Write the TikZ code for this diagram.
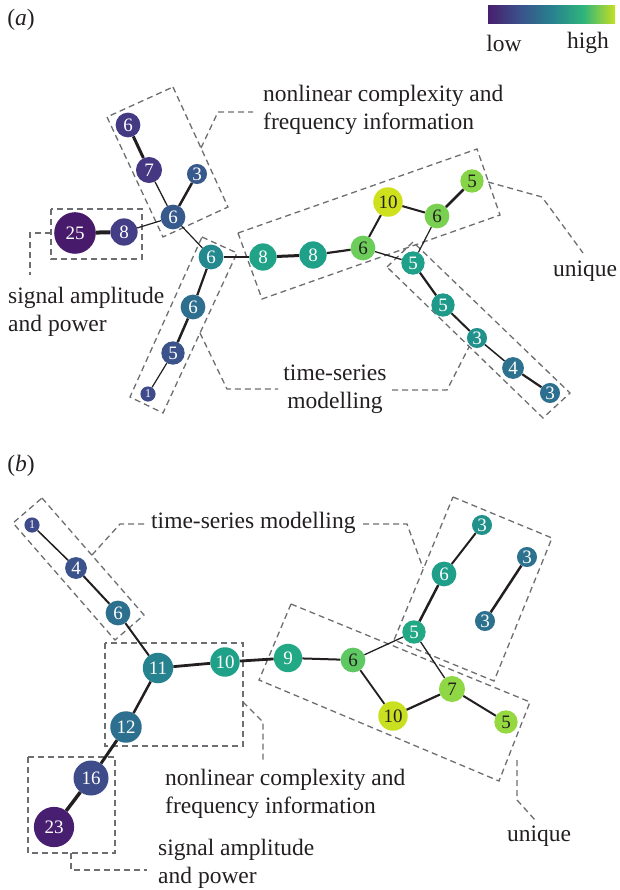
\documentclass[tikz,border=0pt]{standalone}
\usepackage{fontspec}
\setmainfont{Liberation Serif}

\definecolor{edgec}{HTML}{231F20}
\definecolor{grpc}{HTML}{6D6E71}
\definecolor{txtc}{HTML}{231F20}
% colour bar stops
\definecolor{vir0}{HTML}{471F6D}
\definecolor{vir1}{HTML}{3B518B}
\definecolor{vir2}{HTML}{27818E}
\definecolor{vir3}{HTML}{2FB47C}
\definecolor{vir4}{HTML}{C4DF23}
\pgfdeclarehorizontalshading{viridisbar}{100bp}{color(0bp)=(vir0); color(25bp)=(vir0); color(37.5bp)=(vir1); color(50bp)=(vir2); color(62.5bp)=(vir3); color(75bp)=(vir4); color(100bp)=(vir4)}

% vertex colours
\definecolor{cpA}{HTML}{443983}
\definecolor{cpB}{HTML}{453781}
\definecolor{cbA}{HTML}{38598C}
\definecolor{cdA}{HTML}{481A6C}
\definecolor{cdB}{HTML}{433E85}
\definecolor{ctA}{HTML}{23898E}
\definecolor{cmA}{HTML}{2E6E8E}
\definecolor{cbB}{HTML}{3B528B}
\definecolor{cbC}{HTML}{3E4A89}
\definecolor{cgA}{HTML}{20A386}
\definecolor{cgB}{HTML}{1FA088}
\definecolor{clA}{HTML}{6CCD5A}
\definecolor{cyA}{HTML}{CFE11C}
\definecolor{clB}{HTML}{7AD151}
\definecolor{clC}{HTML}{86D549}
\definecolor{cgC}{HTML}{1F9A8A}
\definecolor{ctB}{HTML}{21918C}
\definecolor{cmB}{HTML}{2C728E}
\definecolor{cmC}{HTML}{2D6F8E}
\definecolor{ctC}{HTML}{26828E}
\definecolor{cgD}{HTML}{22A884}
\definecolor{clD}{HTML}{5EC962}
\definecolor{cgE}{HTML}{1F9E89}
\definecolor{clE}{HTML}{8FD744}
\definecolor{cyB}{HTML}{C8E020}
\definecolor{clF}{HTML}{95D840}
\definecolor{cbD}{HTML}{3E4C8A}
\definecolor{cdC}{HTML}{481F70}

\tikzset{
  vtx/.style={circle, inner sep=0pt, fill=#1, text=white, font=\fontsize{19}{19}\selectfont},
  dk/.style={text=txtc},
  sz/.style={minimum size={2*(4.3+3.3*sqrt(#1))}},
  tiny/.style={font=\fontsize{12}{12}\selectfont},
  link/.style={draw=edgec, line width=#1},
  grp/.style={draw=grpc, line width=1.3pt, dash pattern=on 6pt off 4pt, line join=miter},
  lbl/.style={text=txtc, font=\fontsize{23.5}{28}\selectfont, inner sep=0pt},
}

\begin{document}
\begin{tikzpicture}[x=1pt,y=-1pt]
\useasboundingbox (0,0) rectangle (619,890);

% ---------------- panel (a) ----------------
\node[lbl] (tagA) at (21,20) {(\textit{a})};

% colour bar
\shade[shading=viridisbar] (488,6) rectangle (615,24);
\node[lbl] (low) at (504,43) {low};
\node[lbl] (high) at (588,43) {high};

% groups
\draw[grp] (173,87) -- (228,207) -- (163,237) -- (107,117) -- cycle;
\draw[grp] (51,209) rectangle (142,259);
\draw[grp] (202,237) -- (237,253) -- (163,413) -- (130,397) -- cycle;
\draw[grp] (238,233) -- (477,149) -- (500,215) -- (262,299) -- cycle;
\draw[grp] (387,267) -- (413,242) -- (570,393) -- (543,418) -- cycle;

% leaders
\coordinate (lnA1) at (201,148);
\coordinate (lnA2) at (253,112);
\draw[grp] (lnA1) -- (218,112) -- (lnA2);
\coordinate (lsA1) at (51,233);
\coordinate (lsA2) at (30,275);
\draw[grp] (lsA1) -- (30,233) -- (lsA2);
\coordinate (ltA1) at (200,333);
\coordinate (ltA2) at (278,389);
\draw[grp] (ltA1) -- (227,389) -- (ltA2);
\coordinate (ltA3) at (392,390);
\coordinate (ltA4) at (469,347);
\draw[grp] (ltA3) -- (447,390) -- (ltA4);
\coordinate (luA1) at (488,182);
\coordinate (luA2) at (583,253);
\draw[grp] (luA1) -- (542,197) -- (luA2);

% labels
\node[lbl, anchor=west, align=left] (nlA) at (263,110) {nonlinear complexity and\\frequency information};
\node[lbl, anchor=west, align=left] (saA) at (8,312) {signal amplitude\\and power};
\node[lbl, align=center] (tsA) at (335,389) {time-series\\modelling};
\node[lbl, anchor=west] (unA) at (553,271) {unique};

% vertices
\node[vtx=cpA, sz=6] (a6p) at (128,125) {6};
\node[vtx=cpB, sz=7] (a7) at (149,170) {7};
\node[vtx=cbA, sz=3] (a3) at (197,174) {3};
\node[vtx=cbA, sz=6] (a6b) at (173,217) {6};
\node[vtx=cdA, sz=25] (a25) at (75,233) {25};
\node[vtx=cdB, sz=8] (a8p) at (124,232) {8};
\node[vtx=ctA, sz=6] (a6t) at (211,257) {6};
\node[vtx=cmA, sz=6] (a6m) at (193,307) {6};
\node[vtx=cbB, sz=5] (a5b) at (173,353) {5};
\node[vtx=cbC, sz=1, tiny] (a1) at (148,394) {1};
\node[vtx=cgA, sz=8] (a8a) at (263,257) {8};
\node[vtx=cgB, sz=8] (a8b) at (313,255) {8};
\node[vtx=clA, sz=6, dk] (a6g) at (363,248) {6};
\node[vtx=cyA, sz=10, dk] (a10) at (388,202) {10};
\node[vtx=clB, sz=6, dk] (a6r) at (437,216) {6};
\node[vtx=clC, sz=5, dk] (a5u) at (472,181) {5};
\node[vtx=cgB, sz=5] (a5t) at (413,263) {5};
\node[vtx=cgC, sz=5] (a5d) at (443,305) {5};
\node[vtx=ctB, sz=3] (a3d) at (477,338) {3};
\node[vtx=cmB, sz=4] (a4) at (513,368) {4};
\node[vtx=cmC, sz=3] (a3e) at (550,393) {3};

% links
\draw[link=3] (a6p) -- (a7);
\draw[link=1.3] (a7) -- (a6b);
\draw[link=2.5] (a3) -- (a6b);
\draw[link=4] (a25) -- (a8p);
\draw[link=1.2] (a8p) -- (a6b);
\draw[link=1.2] (a6b) -- (a6t);
\draw[link=2] (a6t) -- (a8a);
\draw[link=2.2] (a6t) -- (a6m);
\draw[link=2.5] (a6m) -- (a5b);
\draw[link=1.2] (a5b) -- (a1);
\draw[link=3] (a8a) -- (a8b);
\draw[link=2.2] (a8b) -- (a6g);
\draw[link=2] (a6g) -- (a10);
\draw[link=2] (a10) -- (a6r);
\draw[link=2.5] (a6r) -- (a5u);
\draw[link=1.3] (a6g) -- (a5t);
\draw[link=1.2] (a6r) -- (a5t);
\draw[link=2.2] (a5t) -- (a5d);
\draw[link=2] (a5d) -- (a3d);
\draw[link=1.5] (a3d) -- (a4);
\draw[link=2.2] (a4) -- (a3e);

% ---------------- panel (b) ----------------
\node[lbl] (tagB) at (21,466) {(\textit{b})};

% groups
\draw[grp] (42,498) -- (144,615) -- (115,640) -- (13,523) -- cycle;
\draw[grp] (105,643) rectangle (243,746);
\draw[grp] (28,757) rectangle (115,853);
\draw[grp] (291,604) -- (530,702) -- (499,781) -- (259,680) -- cycle;
\draw[grp] (453,497) -- (552,538) -- (494,681) -- (394,640) -- cycle;

% leaders
\coordinate (ltB1) at (92,555);
\coordinate (ltB2) at (147,524);
\draw[grp] (ltB1) -- (120,524) -- (ltB2);
\coordinate (ltB3) at (363,524);
\coordinate (ltB4) at (423,568);
\draw[grp] (ltB3) -- (407,524) -- (ltB4);
\coordinate (lnB1) at (243,702);
\coordinate (lnB2) at (263,760);
\draw[grp] (lnB1) -- (263,722) -- (lnB2);
\coordinate (lsB1) at (71,853);
\coordinate (lsB2) at (147,870);
\draw[grp] (lsB1) -- (71,870) -- (lsB2);
\coordinate (luB1) at (517,760);
\coordinate (luB2) at (535,820);
\draw[grp] (luB1) -- (517,800) -- (luB2);

% labels
\node[lbl, anchor=west] (tsB) at (151,523) {time-series modelling};
\node[lbl, anchor=west, align=left] (nlB) at (165,794) {nonlinear complexity and\\frequency information};
\node[lbl, anchor=west, align=left] (saB) at (158,864) {signal amplitude\\and power};
\node[lbl] (unB) at (539,836) {unique};

% vertices
\node[vtx=cbC, sz=1, tiny] (b1) at (32,525) {1};
\node[vtx=cbB, sz=4] (b4) at (76,568) {4};
\node[vtx=cmC, sz=6] (b6) at (118,613) {6};
\node[vtx=ctC, sz=11] (b11) at (158,668) {11};
\node[vtx=cgB, sz=10] (b10) at (225,662) {10};
\node[vtx=cgD, sz=9] (b9) at (288,658) {9};
\node[vtx=clD, sz=6, dk] (b6g) at (353,660) {6};
\node[vtx=cgD, sz=5] (b5) at (414,632) {5};
\node[vtx=cgE, sz=6] (b6u) at (444,574) {6};
\node[vtx=ctB, sz=3] (b3u) at (482,525) {3};
\node[vtx=cmB, sz=3] (b3r) at (527,557) {3};
\node[vtx=cmB, sz=3] (b3l) at (485,621) {3};
\node[vtx=clE, sz=7, dk] (b7) at (452,689) {7};
\node[vtx=cyB, sz=10, dk] (b10y) at (393,716) {10};
\node[vtx=clF, sz=5, dk] (b5g) at (506,722) {5};
\node[vtx=cmC, sz=12] (b12) at (126,727) {12};
\node[vtx=cbD, sz=16] (b16) at (91,778) {16};
\node[vtx=cdC, sz=23] (b23) at (54,827) {23};

% links
\draw[link=1.5] (b1) -- (b4);
\draw[link=2] (b4) -- (b6);
\draw[link=2] (b6) -- (b11);
\draw[link=2.8] (b11) -- (b10);
\draw[link=2.8] (b10) -- (b9);
\draw[link=2] (b9) -- (b6g);
\draw[link=1.3] (b6g) -- (b5);
\draw[link=1.8] (b6g) -- (b10y);
\draw[link=2.2] (b10y) -- (b7);
\draw[link=1.3] (b5) -- (b7);
\draw[link=2] (b7) -- (b5g);
\draw[link=2.5] (b5) -- (b6u);
\draw[link=2] (b6u) -- (b3u);
\draw[link=2.5] (b3r) -- (b3l);
\draw[link=2.5] (b11) -- (b12);
\draw[link=3] (b12) -- (b16);
\draw[link=3.5] (b16) -- (b23);
\end{tikzpicture}
\end{document}
